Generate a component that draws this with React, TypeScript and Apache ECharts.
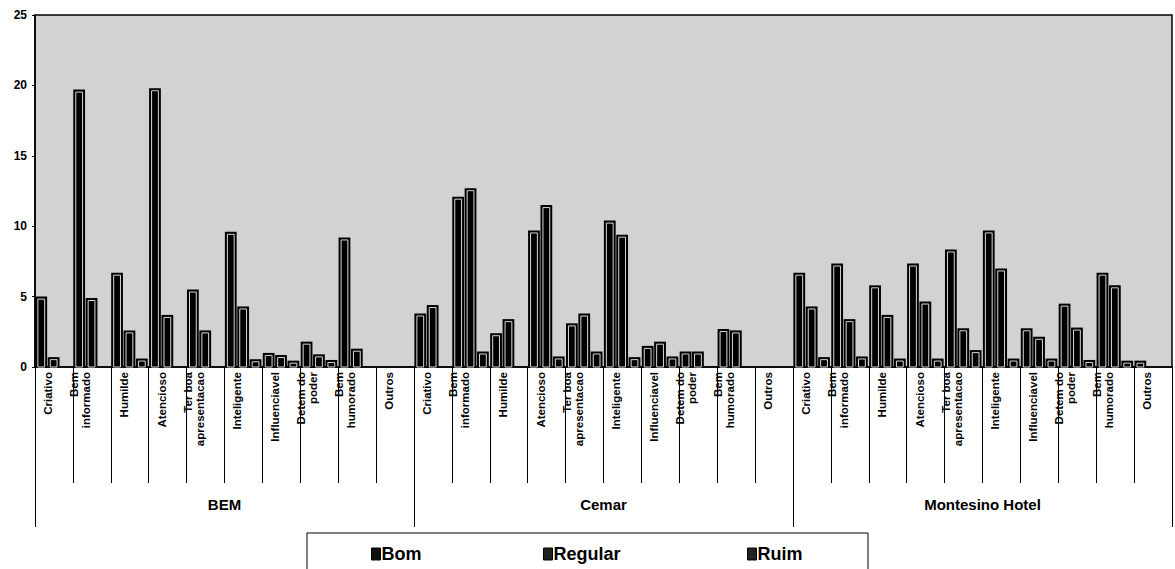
import React, { useEffect, useRef } from "react";
import * as echarts from "echarts";

const groups = ["BEM", "Cemar", "Montesino Hotel"];
const attributes = [
  "Criativo",
  "Bem\ninformado",
  "Humilde",
  "Atencioso",
  "Ter boa\napresentacao",
  "Inteligente",
  "Influenciavel",
  "Detem do\npoder",
  "Bem\nhumorado",
  "Outros",
];
const seriesNames = ["Bom", "Regular", "Ruim"];

const bom = [
  5.0, 19.7, 6.7, 19.8, 5.5, 9.6, 1.0, 1.8, 9.2, 0,
  3.8, 12.1, 2.4, 9.7, 3.1, 10.4, 1.5, 1.1, 2.7, 0,
  6.7, 7.35, 5.8, 7.35, 8.35, 9.7, 2.75, 4.5, 6.7, 0.45,
];
const regular = [
  0.7, 4.9, 2.6, 3.7, 2.6, 4.3, 0.85, 0.9, 1.3, 0,
  4.4, 12.7, 3.4, 11.5, 3.8, 9.4, 1.8, 1.1, 2.6, 0,
  4.3, 3.4, 3.7, 4.65, 2.75, 7.0, 2.15, 2.8, 5.8, 0,
];
const ruim = [
  0, 0, 0.6, 0, 0, 0.55, 0.45, 0.5, 0, 0,
  0, 1.1, 0, 0.75, 1.1, 0.7, 0.75, 0, 0, 0,
  0.7, 0.75, 0.6, 0.6, 1.2, 0.6, 0.6, 0.5, 0.45, 0,
];
const yTicks = [0, 5, 10, 15, 20, 25];

const FONT = "'Liberation Sans', Arial, sans-serif";
const legendLefts = [366, 538, 742];

export default function App() {
  const ref = useRef<HTMLDivElement>(null);
  useEffect(() => {
    if (!ref.current) return;
    const chart = echarts.init(ref.current, undefined, { renderer: "svg" });
    const categories: string[] = [];
    groups.forEach(() => attributes.forEach((a) => categories.push(a)));
    const allData = [bom, regular, ruim];

    const makeRender = (si: number) => (params: any, api: any) => {
      const idx = api.value(0);
      const val = api.value(1);
      const base = api.coord([idx, 0]);
      const top = api.coord([idx, val]);
      const band = api.size([1, 0])[0];
      const used = band * 0.98;
      const slot = used / 3;
      const x = base[0] - used / 2 + si * slot;
      const w = slot - 0.6;
      const h = base[1] - top[1];
      if (h <= 0.2) return null;
      const children: any[] = [
        {
          type: "rect",
          shape: { x, y: top[1], width: w, height: h },
          style: { fill: "#000" },
        },
      ];
      if (h > 5 && w > 6) {
        children.push({
          type: "rect",
          shape: { x: x + 2.5, y: top[1] + 2.5, width: w - 5, height: h - 2.5 },
          style: { fill: "none", stroke: "#d8d8d8", lineWidth: 1 },
        });
      }
      return { type: "group", children };
    };

    const option: any = {
      animation: false,
      backgroundColor: "#fff",
      grid: {
        left: 35,
        right: 3,
        top: 15,
        bottom: 202,
        show: true,
        backgroundColor: "#d2d2d2",
        borderColor: "#000",
        borderWidth: 1.5,
      },
      legend: seriesNames.map((n, i) => ({
        left: legendLefts[i],
        top: 540,
        itemWidth: 9,
        itemHeight: 12,
        icon: "rect",
        textStyle: { fontFamily: FONT, fontWeight: "bold", fontSize: 18, color: "#000", padding: [0, 0, 0, -4] },
        data: [
          {
            name: n,
            itemStyle: { color: i === 0 ? "#111" : "#222", borderColor: "#000", borderWidth: 1 },
          },
        ],
      })),
      graphic: [
        {
          type: "rect",
          shape: { x: 307, y: 533, width: 561, height: 50 },
          style: { fill: "none", stroke: "#000", lineWidth: 1 },
        },
      ],
      xAxis: [
        {
          type: "category",
          data: categories,
          position: "bottom",
          boundaryGap: true,
          axisLine: { show: true, lineStyle: { color: "#000", width: 1.5 } },
          axisTick: { show: true, length: 116, interval: 0, lineStyle: { color: "#000" } },
          axisLabel: {
            interval: 0,
            rotate: 90,
            margin: 5,
            verticalAlign: "bottom",
            fontFamily: FONT,
            fontWeight: "bold",
            fontSize: 11.5,
            lineHeight: 12,
            color: "#000",
          },
          splitLine: { show: false },
        },
        {
          type: "category",
          data: groups,
          position: "bottom",
          boundaryGap: true,
          axisLine: { show: false },
          axisTick: { show: true, length: 160, interval: 0, lineStyle: { color: "#000" } },
          axisLabel: {
            interval: 0,
            margin: 130,
            fontFamily: FONT,
            fontWeight: "bold",
            fontSize: 15,
            color: "#000",
          },
          splitLine: { show: false },
        },
      ],
      yAxis: {
        type: "value",
        min: yTicks[0],
        max: yTicks[yTicks.length - 1],
        interval: 5,
        axisLine: { show: true, lineStyle: { color: "#000", width: 1.5 } },
        axisTick: { show: true, length: 3, lineStyle: { color: "#000" } },
        axisLabel: {
          margin: 8,
          fontFamily: FONT,
          fontWeight: "bold",
          fontSize: 12,
          color: "#000",
        },
        splitLine: { show: false },
      },
      series: seriesNames.map((name, si) => ({
        name,
        type: "custom",
        xAxisIndex: 0,
        yAxisIndex: 0,
        itemStyle: { color: "#000" },
        encode: { x: 0, y: 1 },
        renderItem: makeRender(si),
        data: allData[si].map((v, i) => [i, v]),
      })),
    };
    chart.setOption(option);
    return () => chart.dispose();
  }, []);
  return (
    <div
      ref={ref}
      style={{ position: "fixed", left: 0, top: 0, width: 1175, height: 569, background: "#fff" }}
    />
  );
}
